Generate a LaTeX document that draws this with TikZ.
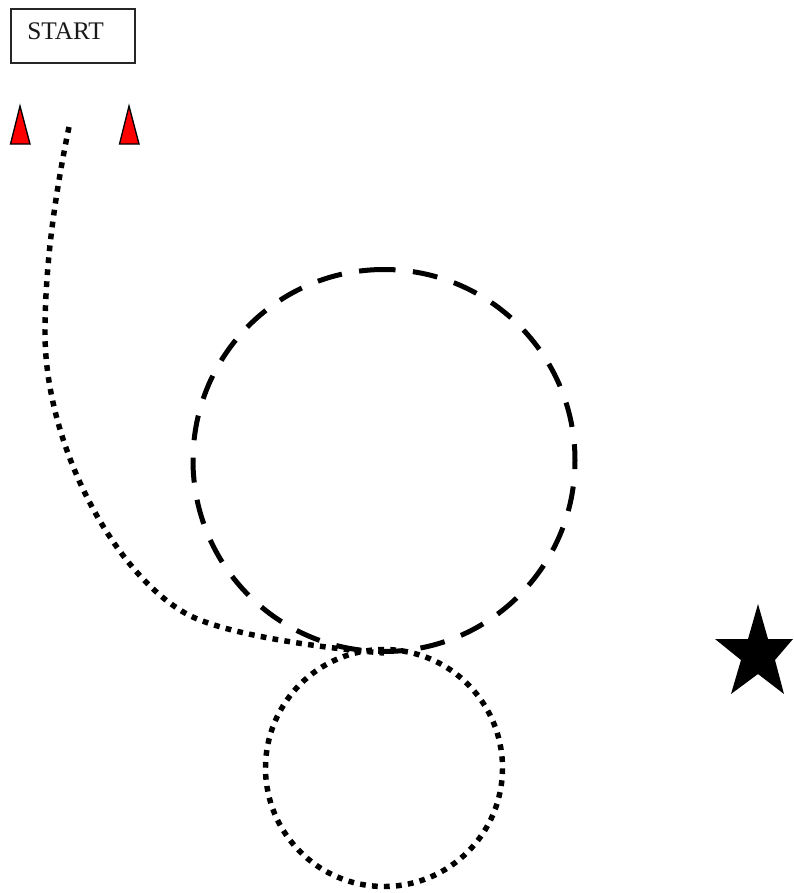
\documentclass[tikz,border=0pt]{standalone}
\usepackage{fontspec}
\setmainfont{Liberation Serif}
\tikzset{
  x=0.75pt,y=-0.75pt,
  dotline/.style={line width=4.1pt,dash pattern=on 4.3pt off 4.707pt},
  dotcurve/.style={line width=4.1pt,dash pattern=on 4.3pt off 4.7pt},
  dashline/.style={line width=3.75pt,dash pattern=on 18.75pt off 13.09pt},
  cone/.style={fill=red,draw=black,line width=1pt,line join=miter},
  startbox/.style={draw=black!85,line width=1.2pt,minimum width=93pt,minimum height=40.5pt,inner sep=0pt}
}
\begin{document}
\begin{tikzpicture}
\useasboundingbox (0,0) rectangle (793,893);
\node[startbox] (start) at (73,36) {};
\node[anchor=base west,inner sep=0pt,font=\fontsize{19pt}{22pt}\selectfont,text=black!90] (label) at (27,39.5) {START};
\draw[cone] (20,106) -- (30,144) -- (10.5,144) -- cycle;
\draw[cone] (129,106) -- (139,144) -- (119.5,144) -- cycle;
\draw[dotcurve] (69,127) .. controls (55,195) and (45,265) .. (45,333)
  .. controls (45,443) and (112,571) .. (185,613)
  .. controls (221,634) and (320,648) .. (384,653);
\draw[dashline] (384,269.5) arc[start angle=270,end angle=-90,radius=191];
\draw[dotline] (384,649.5) arc[start angle=270,end angle=-90,radius=118.5];
\fill[black] (758,604) -- (768,639) -- (793,639) -- (775,660) -- (784,694) -- (758,674) -- (731,694) -- (741,660) -- (715,639) -- (748,639) -- cycle;
\end{tikzpicture}
\end{document}
